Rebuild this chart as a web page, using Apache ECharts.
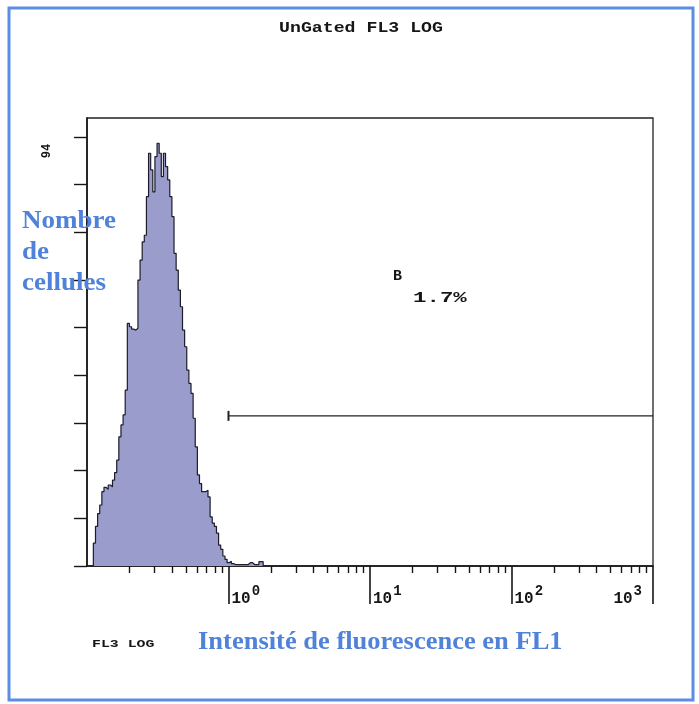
<!DOCTYPE html>
<html><head><meta charset="utf-8">
<script src="https://cdn.jsdelivr.net/npm/echarts@6/dist/echarts.min.js"></script>
<style>html,body{margin:0;padding:0;background:#fff}#c{width:699px;height:704px}</style>
</head><body><div id="c"></div>
<script>
// ---- data ----
const titleText = 'UnGated FL3 LOG';
const yAxisTitle = ['Nombre', 'de', 'cellules'];
const xAxisTitle = 'Intensité de fluorescence en FL1';
const xChannelLabel = 'FL3 LOG';
const yMaxLabel = '94';
const yMax = 94;
const yTickValues = [0, 10, 20, 30, 40, 50, 60, 70, 80, 90];
const xMin = 0.1;
const xMax = 1000;
const xMajorTicks = [1, 10, 100, 1000];
const xMajorLabels = ['10^0', '10^1', '10^2', '10^3'];
const xMinorTicks = [0.2, 0.3, 0.4, 0.5, 0.6, 0.7, 0.8, 0.9,
  2, 3, 4, 5, 6, 7, 8, 9,
  20, 30, 40, 50, 60, 70, 80, 90,
  200, 300, 400, 500, 600, 700, 800, 900];
// histogram bins, equally spaced in decades (log10 of intensity)
const histStartLog = -0.955;
const histBinWidth = 0.015;
const histCounts = [
  4.8, 8.3, 11.0, 12.8, 15.6, 16.5, 16.1, 17.0, 16.6, 18.0,
  19.6, 22.2, 27.1, 29.6, 31.7, 36.9, 50.9, 50.2, 49.7, 49.5,
  49.9, 60.0, 64.2, 68.0, 69.4, 77.5, 86.6, 83.1, 78.5, 85.9,
  88.7, 86.6, 81.7, 86.6, 83.8, 81.0, 77.5, 73.3, 65.6, 62.1,
  57.9, 54.4, 49.5, 46.0, 41.1, 38.3, 36.2, 31.0, 25.0, 19.1,
  17.3, 15.6, 15.6, 15.9, 14.5, 10.3, 9.0, 8.3, 6.9, 4.4,
  3.5, 2.1, 1.4, 0.7,
  1.0, 0.5, 0.3, 0.3, 0.3, 0.3, 0.3, 0.3, 0.3, 0.7,
  0.7, 0.3, 0.3, 0.3, 0.9, 0.9, 0
];
const gateRange = [1, 1000];
const gateLevel = 31.5;
const gateName = 'B';
const gatePercent = '1.7%';

// ---- build ----
const lg = v => +Math.log10(v).toFixed(6);
const histData = [[histStartLog, 0]];
histCounts.forEach((c, i) => histData.push([histStartLog + i * histBinWidth, c]));
histData.push([histStartLog + histCounts.length * histBinWidth, 0]);

const blue = '#4f82d8';
const ink = '#161616';

const chart = echarts.init(document.getElementById('c'), null, {renderer: 'canvas'});
chart.setOption({
  animation: false,
  backgroundColor: '#ffffff',
  grid: {left: 87, right: 46, top: 118, bottom: 138, show: true, borderColor: '#222', borderWidth: 1.3, backgroundColor: 'transparent'},
  xAxis: [
    {
      type: 'value', min: lg(xMin), max: lg(xMax), position: 'bottom',
      axisLine: {show: true, onZero: false, lineStyle: {color: ink, width: 1.5}},
      axisTick: {show: true, customValues: xMinorTicks.map(lg), length: 7, lineStyle: {color: ink, width: 1.4}},
      axisLabel: {show: false}, splitLine: {show: false}
    },
    {
      type: 'value', min: lg(xMin), max: lg(xMax), position: 'bottom', offset: 0,
      axisLine: {show: false, onZero: false},
      axisTick: {show: true, customValues: xMajorTicks.map(lg), length: 38, lineStyle: {color: ink, width: 1.6}},
      axisLabel: {
        show: true, customValues: xMajorTicks.map(lg), margin: 18,
        align: 'left', alignMaxLabel: 'right', padding: [0, 11, 0, 3],
        formatter: v => {
          const idx = xMajorTicks.findIndex(t => Math.abs(lg(t) - v) < 1e-3);
          const parts = xMajorLabels[idx].split('^');
          return '{b|' + parts[0] + '}{s|' + parts[1] + '}';
        },
        rich: {
          b: {fontFamily: 'Liberation Mono', fontWeight: 'bold', fontSize: 16, color: ink, lineHeight: 23, verticalAlign: 'bottom'},
          s: {fontFamily: 'Liberation Mono', fontWeight: 'bold', fontSize: 14, color: ink, verticalAlign: 'top', padding: [0, 0, 0, 1]}
        }
      },
      splitLine: {show: false}
    }
  ],
  yAxis: {
    type: 'value', min: 0, max: yMax,
    axisLine: {show: true, onZero: false, lineStyle: {color: ink, width: 1.6}},
    axisTick: {show: true, customValues: yTickValues, length: 13, lineStyle: {color: ink, width: 1.4}},
    axisLabel: {show: false}, splitLine: {show: false}
  },
  series: [
    {
      type: 'line', xAxisIndex: 0, step: 'end', symbol: 'none',
      data: histData,
      lineStyle: {color: '#1c1c2a', width: 1.2},
      areaStyle: {color: '#9a9ccb', opacity: 1}
    },
    {
      type: 'line', xAxisIndex: 0,
      data: [
        {value: [lg(gateRange[0]), gateLevel], symbol: 'rect', symbolSize: [2, 10]},
        {value: [lg(gateRange[1]), gateLevel], symbol: 'none'}
      ],
      lineStyle: {color: '#222', width: 1.4},
      itemStyle: {color: '#222'}
    }
  ],
  graphic: [
    {type: 'rect', shape: {x: 9, y: 8, width: 684, height: 692}, style: {fill: 'none', stroke: '#5b8ee2', lineWidth: 3}, z: 100},
    {type: 'text', x: 361, y: 28, scaleX: 1.3, style: {text: titleText, font: 'bold 14px "Liberation Mono"', fill: ink, align: 'center', verticalAlign: 'middle'}, z: 100},
    {type: 'text', x: 47, y: 151, rotation: Math.PI / 2, style: {text: yMaxLabel, font: 'bold 12px "Liberation Mono"', fill: ink, align: 'center', verticalAlign: 'middle'}, z: 100},
    {type: 'text', x: 22, y: 206, scaleX: 1.08, style: {text: yAxisTitle.join('\n'), font: 'bold 25px "Liberation Serif"', lineHeight: 31, fill: blue, align: 'left', verticalAlign: 'top'}, z: 50},
    {type: 'text', x: 198, y: 643, scaleX: 1.06, style: {text: xAxisTitle, font: 'bold 25px "Liberation Serif"', fill: blue, align: 'left', verticalAlign: 'middle'}, z: 100},
    {type: 'text', x: 92, y: 644, scaleX: 1.35, style: {text: xChannelLabel, font: 'bold 11px "Liberation Mono"', fill: ink, align: 'left', verticalAlign: 'middle'}, z: 100},
    {type: 'text', x: 393, y: 276, style: {text: gateName, font: 'bold 15px "Liberation Mono"', fill: ink, align: 'left', verticalAlign: 'middle'}, z: 100},
    {type: 'text', x: 413, y: 298, scaleX: 1.6, style: {text: gatePercent, font: 'bold 14px "Liberation Mono"', fill: ink, align: 'left', verticalAlign: 'middle'}, z: 100}
  ]
});
</script>
</body></html>
